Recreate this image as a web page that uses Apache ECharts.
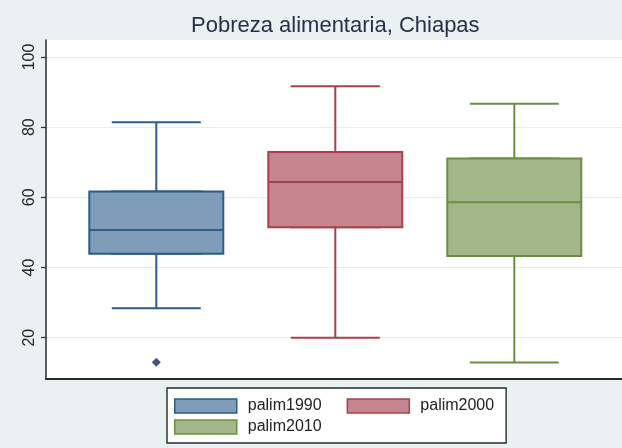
<!DOCTYPE html>
<html><head><meta charset="utf-8">
<script src="https://cdn.jsdelivr.net/npm/echarts@6/dist/echarts.min.js"></script>
<style>html,body{margin:0;padding:0;background:#e9f1f3}#c{width:622px;height:448px}</style>
</head><body><div id="c"></div>
<script>
// ---- data ----
const categories = ['palim1990', 'palim2000', 'palim2010'];
const lowWhisker = [28.4, 20.0, 12.9];
const q1 = [43.9, 51.5, 43.3];
const median = [50.7, 64.4, 58.6];
const q3 = [61.7, 72.9, 71.1];
const highWhisker = [81.4, 91.7, 86.7];
const outlierCategory = ['palim1990'];
const outlierValue = [13.0];
const yTicks = [20, 40, 60, 80, 100];
const titleText = 'Pobreza alimentaria, Chiapas';

// ---- styles ----
const fills = ['#7f9db9', '#c5858e', '#a3b88a'];
const lines = ['#2d5d86', '#a8414c', '#6c8e40'];
const FONT = '"Liberation Sans", Arial, sans-serif';
const Y_MIN = 8.23, Y_MAX = 104.85;

const chart = echarts.init(document.getElementById('c'));

const whiskerData = categories.map((c, i) => ({
  value: [lowWhisker[i], q1[i], median[i], q3[i], highWhisker[i]],
  itemStyle: { color: 'rgba(0,0,0,0)', borderColor: lines[i], borderWidth: 2 }
}));
const boxData = categories.map((c, i) => ({
  value: [q1[i], q1[i], median[i], q3[i], q3[i]],
  itemStyle: { color: fills[i], borderColor: lines[i], borderWidth: 2 }
}));
const outlierData = outlierCategory.map((c, i) => [c, outlierValue[i]]);

const legendItem = (name) => {
  const i = categories.indexOf(name);
  return { name, icon: 'rect', itemStyle: { color: fills[i], borderColor: lines[i], borderWidth: 1.5 } };
};
const legendText = { fontFamily: FONT, fontSize: 16, color: '#222', lineHeight: 14, padding: [0, 0, 0, 6] };

const option = {
  backgroundColor: '#e9f1f3',
  animation: false,
  title: {
    text: titleText, left: 191, top: 15, padding: 0,
    textStyle: { fontFamily: FONT, fontSize: 22, fontWeight: 'normal', color: '#272f4b' }
  },
  grid: [
    { left: 66.8, right: 18.2, top: 40, bottom: 69 },
    { left: 46, right: 0, top: 40, bottom: 69, show: true, backgroundColor: '#ffffff', borderWidth: 0, z: 0 }
  ],
  xAxis: [
    { type: 'category', data: categories, gridIndex: 0, show: false },
    { type: 'category', data: categories, gridIndex: 0, show: false },
    { type: 'value', gridIndex: 1, min: 0, max: 1,
      axisLine: { show: true, onZero: false, lineStyle: { color: '#2b2b2b', width: 2 } },
      axisTick: { show: false }, axisLabel: { show: false }, splitLine: { show: false } }
  ],
  yAxis: [
    { type: 'value', gridIndex: 0, min: Y_MIN, max: Y_MAX, show: false },
    { type: 'value', gridIndex: 1, min: Y_MIN, max: Y_MAX,
      axisLine: { show: true, onZero: false, lineStyle: { color: '#2b2b2b', width: 1.5 } },
      axisTick: { show: true, length: 5, customValues: yTicks, lineStyle: { color: '#2b2b2b', width: 1.2 } },
      axisLabel: { customValues: yTicks, rotate: 90, margin: 8, fontFamily: FONT, fontSize: 16, color: '#222' },
      splitLine: { show: true, lineStyle: { color: '#e6edf0', width: 1 } } }
  ],
  legend: [
    { data: [legendItem('palim1990'), legendItem('palim2000')],
      left: 167, top: 388, padding: [10, 12, 29, 7], itemWidth: 62, itemHeight: 14, itemGap: 25,
      borderColor: '#2a2a2a', borderWidth: 1.4, backgroundColor: '#ffffff',
      textStyle: legendText, selectedMode: false },
    { data: [legendItem('palim2010')],
      left: 174, top: 419, padding: 0, itemWidth: 62, itemHeight: 14, itemGap: 25,
      textStyle: legendText, selectedMode: false, z: 6 }
  ],
  series: [
    { type: 'boxplot', name: 'whiskers', xAxisIndex: 1, yAxisIndex: 0, boxWidth: [89, 89],
      data: whiskerData, z: 2, silent: true, emphasis: { disabled: true } },
    { type: 'boxplot', name: 'boxes', xAxisIndex: 0, yAxisIndex: 0, boxWidth: [134, 134],
      data: boxData, z: 3, silent: true, emphasis: { disabled: true } },
    { type: 'scatter', name: 'outliers', xAxisIndex: 0, yAxisIndex: 0, data: outlierData,
      symbol: 'diamond', symbolSize: 9, itemStyle: { color: '#14285a' }, z: 4, silent: true },
    ...categories.map((c, i) => ({
      type: 'bar', name: c, xAxisIndex: 0, yAxisIndex: 0, data: [],
      itemStyle: { color: fills[i], borderColor: lines[i], borderWidth: 1.5 }
    }))
  ]
};
chart.setOption(option);
</script>
</body></html>
